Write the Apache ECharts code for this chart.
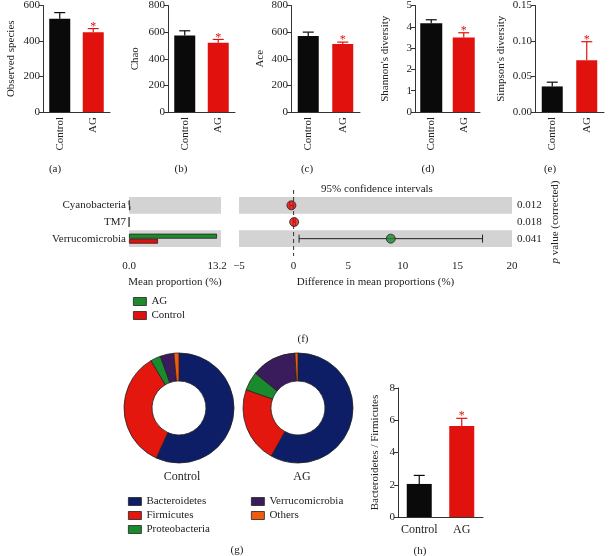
<!DOCTYPE html>
<html><head><meta charset="utf-8">
<script src="https://cdn.jsdelivr.net/npm/echarts@6/dist/echarts.min.js"></script>
<style>html,body{margin:0;padding:0;background:#fff}#c{width:609px;height:556px}</style>
</head><body><div id="c"></div>
<script>
// ---------- data ----------
const groups = ['Control', 'AG'];
const observedMean = [525, 450];
const observedSem = [35, 20];
const chaoMean = [575, 520];
const chaoSem = [35, 25];
const aceMean = [570, 510];
const aceSem = [30, 15];
const shannonMean = [4.17, 3.50];
const shannonSem = [0.16, 0.22];
const simpsonMean = [0.036, 0.073];
const simpsonSem = [0.006, 0.026];
const ratioMean = [2.05, 5.65];
const ratioSem = [0.53, 0.47];

const phyla = ['Cyanobacteria', 'TM7', 'Verrucomicrobia'];
const agProportion = [0.05, 0.02, 13.2];
const controlProportion = [0.2, 0.02, 4.35];
const diffMean = [-0.2, 0.05, 8.9];
const ciLow = [-0.35, -0.05, 0.5];
const ciHigh = [-0.05, 0.15, 17.3];
const pValues = ['0.012', '0.018', '0.041'];

const phylumNames = ['Bacteroidetes', 'Firmicutes', 'Proteobacteria', 'Verrucomicrobia', 'Others'];
const controlComposition = [56.8, 34.7, 3.0, 4.0, 1.5];
const agComposition = [58.1, 22.3, 5.5, 13.2, 0.9];

// ---------- style ----------
const FONT = 'Liberation Serif';
const RED = '#e1120e';
const BLACK = '#0a0a0a';
const GREEN = '#1d8a2b';
const AX = '#333';
const phylumColors = ['#0d1e66', '#e3170d', '#1b8a2e', '#3a1b5c', '#f25a10'];

const chart = echarts.init(document.getElementById('c'));

const grids = [], xAxes = [], yAxes = [], series = [];

function errRender(params, api) {
  const x = api.value(0), m = api.value(1), t = api.value(2);
  const p0 = api.coord([x, m]);
  const p1 = api.coord([x, t]);
  const col = params.dataIndex === 0 ? BLACK : RED;
  const ch = [
    {type: 'line', shape: {x1: p0[0], y1: p0[1], x2: p1[0], y2: p1[1]}, style: {stroke: col, lineWidth: 1.2}},
    {type: 'line', shape: {x1: p1[0] - 5.5, y1: p1[1], x2: p1[0] + 5.5, y2: p1[1]}, style: {stroke: col, lineWidth: 1.2}}
  ];
  if (params.dataIndex === 1) {
    ch.push({type: 'text', x: p1[0], y: p1[1] + 4, style: {text: '*', fill: RED, font: '12px ' + FONT, align: 'center', verticalAlign: 'bottom'}});
  }
  return {type: 'group', children: ch};
}

function barPanel(grid, yMax, interval, dec, yName, nameGap, mean, sem, barW, rotate) {
  const gi = grids.length, xi = xAxes.length, yi = yAxes.length;
  grids.push(grid);
  xAxes.push({
    gridIndex: gi, type: 'category', data: groups,
    axisLine: {lineStyle: {color: AX, width: 1}},
    axisTick: {alignWithLabel: true, length: 4, lineStyle: {color: AX}},
    axisLabel: {interval: 0, hideOverlap: false, rotate: rotate, fontFamily: FONT, fontSize: rotate ? 11 : 12, color: '#222', margin: rotate ? 5 : 7}
  });
  yAxes.push({
    gridIndex: gi, type: 'value', min: 0, max: yMax, interval: interval,
    axisLine: {show: true, lineStyle: {color: AX, width: 1}},
    axisTick: {show: true, length: 4, lineStyle: {color: AX}},
    splitLine: {show: false},
    axisLabel: {fontFamily: FONT, fontSize: 11, color: '#222', margin: 3, formatter: v => v.toFixed(dec)},
    name: yName, nameLocation: 'middle', nameGap: nameGap,
    nameTextStyle: {fontFamily: FONT, fontSize: 11, color: '#222'}
  });
  series.push({
    type: 'bar', xAxisIndex: xi, yAxisIndex: yi, barWidth: barW, z: 2,
    data: mean.map((v, k) => ({value: v, itemStyle: {color: k === 0 ? BLACK : RED}}))
  });
  series.push({
    type: 'custom', xAxisIndex: xi, yAxisIndex: yi, z: 3,
    renderItem: errRender, encode: {x: 0, y: [1, 2]},
    data: mean.map((v, k) => [k, v, v + sem[k]])
  });
}

barPanel({left: 43, top: 4, width: 67, height: 108}, 600, 200, 0, 'Observed species', 26, observedMean, observedSem, 21, 90);
barPanel({left: 168, top: 4, width: 67, height: 108}, 800, 200, 0, 'Chao', 27, chaoMean, chaoSem, 21, 90);
barPanel({left: 291, top: 4, width: 69, height: 108}, 800, 200, 0, 'Ace', 25, aceMean, aceSem, 21, 90);
barPanel({left: 415, top: 4, width: 65, height: 108}, 5, 1, 0, "Shannon's diversity", 24, shannonMean, shannonSem, 22, 90);
barPanel({left: 535, top: 4, width: 69, height: 108}, 0.15, 0.05, 2, "Simpson's diversity", 28, simpsonMean, simpsonSem, 21, 90);

// ---------- panel f ----------
const gF1 = grids.length, xF1 = xAxes.length;
grids.push({left: 129, top: 197, width: 92, height: 50});
xAxes.push({
  gridIndex: gF1, type: 'value', min: 0, max: 13.8, offset: 9,
  axisLine: {lineStyle: {color: AX}},
  axisTick: {customValues: [0, 13.2], length: 4, lineStyle: {color: AX}},
  axisLabel: {customValues: [0, 13.2], formatter: v => v.toFixed(1), fontFamily: FONT, fontSize: 11, color: '#222', margin: 5},
  splitLine: {show: false},
  name: 'Mean proportion (%)', nameLocation: 'middle', nameGap: 21,
  nameTextStyle: {fontFamily: FONT, fontSize: 11, color: '#222'}
});
const yF1 = yAxes.length;
yAxes.push({
  gridIndex: gF1, type: 'category', data: phyla, inverse: true,
  axisLine: {show: false}, axisTick: {show: false},
  axisLabel: {fontFamily: FONT, fontSize: 11, color: '#222', margin: 3},
  splitArea: {show: true, areaStyle: {color: ['#d3d3d3', 'rgba(255,255,255,0)']}},
  splitLine: {show: false}
});
series.push({
  name: 'AG', type: 'bar', xAxisIndex: xF1, yAxisIndex: yF1, barWidth: 5, barGap: '0%',
  itemStyle: {color: GREEN, borderColor: '#222', borderWidth: 0.8}, data: agProportion
});
series.push({
  name: 'Control', type: 'bar', xAxisIndex: xF1, yAxisIndex: yF1, barWidth: 5, barGap: '0%',
  itemStyle: {color: RED, borderColor: '#222', borderWidth: 0.8}, data: controlProportion
});

const gF2 = grids.length, xF2 = xAxes.length;
grids.push({left: 239, top: 197, width: 273, height: 50});
xAxes.push({
  gridIndex: gF2, type: 'value', min: -5, max: 20, interval: 5, offset: 9,
  axisLine: {lineStyle: {color: AX}},
  axisTick: {length: 4, lineStyle: {color: AX}},
  axisLabel: {formatter: v => String(v).replace('-', '\u2212'), fontFamily: FONT, fontSize: 11, color: '#222', margin: 5},
  splitLine: {show: false},
  name: 'Difference in mean proportions (%)', nameLocation: 'middle', nameGap: 21,
  nameTextStyle: {fontFamily: FONT, fontSize: 11, color: '#222'}
});
const yF2 = yAxes.length;
yAxes.push({
  gridIndex: gF2, type: 'category', data: phyla, inverse: true,
  axisLine: {show: false}, axisTick: {show: false}, axisLabel: {show: false},
  splitArea: {show: true, areaStyle: {color: ['#d3d3d3', 'rgba(255,255,255,0)']}},
  splitLine: {show: false}
});
yAxes.push({
  gridIndex: gF2, type: 'category', data: pValues, inverse: true, position: 'right',
  axisLine: {show: false}, axisTick: {show: false},
  axisLabel: {fontFamily: FONT, fontSize: 11, color: '#222', margin: 5},
  splitLine: {show: false},
  name: '{i|p} value (corrected)', nameLocation: 'middle', nameRotate: 90, nameGap: 38,
  nameTextStyle: {fontFamily: FONT, fontSize: 11, color: '#222', rich: {i: {fontStyle: 'italic', fontFamily: FONT, fontSize: 11, color: '#222'}}}
});
series.push({
  type: 'custom', xAxisIndex: xF2, yAxisIndex: yF2, z: 1, silent: true,
  encode: {x: 0, y: 1}, data: [[0, 0]],
  renderItem: function (params, api) {
    const x = api.coord([api.value(0), 0])[0];
    const cs = params.coordSys;
    return {type: 'line', shape: {x1: x, y1: cs.y - 7, x2: x, y2: cs.y + cs.height + 9},
      style: {stroke: '#333', lineWidth: 1, lineDash: [4, 3]}};
  }
});
series.push({
  type: 'custom', xAxisIndex: xF2, yAxisIndex: yF2, z: 2,
  encode: {x: [0, 1], y: 2},
  data: phyla.map((p, i) => [ciLow[i], ciHigh[i], i]),
  renderItem: function (params, api) {
    const a = api.coord([api.value(0), api.value(2)]);
    const b = api.coord([api.value(1), api.value(2)]);
    const s = {stroke: '#222', lineWidth: 1};
    return {type: 'group', children: [
      {type: 'line', shape: {x1: a[0], y1: a[1], x2: b[0], y2: b[1]}, style: s},
      {type: 'line', shape: {x1: a[0], y1: a[1] - 4, x2: a[0], y2: a[1] + 4}, style: s},
      {type: 'line', shape: {x1: b[0], y1: b[1] - 4, x2: b[0], y2: b[1] + 4}, style: s}
    ]};
  }
});
series.push({
  type: 'scatter', xAxisIndex: xF2, yAxisIndex: yF2, z: 3, symbolSize: 9,
  data: diffMean.map((d, i) => ({value: [d, i], itemStyle: {color: i === 2 ? GREEN : RED, borderColor: '#222', borderWidth: 1}}))
});

// ---------- panel g ----------
function pie(name, center, values) {
  series.push({
    name: name, type: 'pie', center: center, radius: [27, 55], startAngle: 90, clockwise: true,
    label: {show: false}, labelLine: {show: false}, emphasis: {disabled: true},
    itemStyle: {borderColor: '#222', borderWidth: 0.8},
    data: phylumNames.map((n, i) => ({name: n, value: values[i], itemStyle: {color: phylumColors[i]}}))
  });
}
pie('Control composition', [179, 408], controlComposition);
pie('AG composition', [298, 408], agComposition);

// ---------- panel h ----------
barPanel({left: 398, top: 388, width: 85, height: 129}, 8, 2, 0, 'Bacteroidetes / Firmicutes', 17, ratioMean, ratioSem, 25, 0);

// ---------- text ----------
function txt(x, y, t, size) {
  return {type: 'text', x: x, y: y, style: {text: t, font: (size || 11) + 'px ' + FONT, fill: '#222', align: 'center', verticalAlign: 'middle'}};
}
const graphics = [
  txt(55, 169, '(a)'), txt(181, 169, '(b)'), txt(307, 169, '(c)'), txt(428, 169, '(d)'), txt(550, 169, '(e)'),
  txt(377, 189, '95% confidence intervals', 11),
  txt(303, 339, '(f)'),
  txt(182, 477, 'Control', 12), txt(302, 477, 'AG', 12),
  txt(237, 550, '(g)'), txt(420, 551, '(h)')
];

const legendCommon = {
  orient: 'vertical', icon: 'rect', itemWidth: 13, itemHeight: 8, itemGap: 3,
  textStyle: {fontFamily: FONT, fontSize: 11, color: '#222'}, selectedMode: false,
  itemStyle: {borderColor: '#222', borderWidth: 0.8}
};

chart.setOption({
  animation: false,
  backgroundColor: '#fff',
  grid: grids, xAxis: xAxes, yAxis: yAxes, series: series,
  legend: [
    Object.assign({}, legendCommon, {data: ['AG', 'Control'], left: 128, top: 291}),
    Object.assign({}, legendCommon, {data: ['Bacteroidetes', 'Firmicutes', 'Proteobacteria'], left: 123, top: 491}),
    Object.assign({}, legendCommon, {data: ['Verrucomicrobia', 'Others'], left: 246, top: 491})
  ],
  graphic: graphics
});
</script></body></html>
